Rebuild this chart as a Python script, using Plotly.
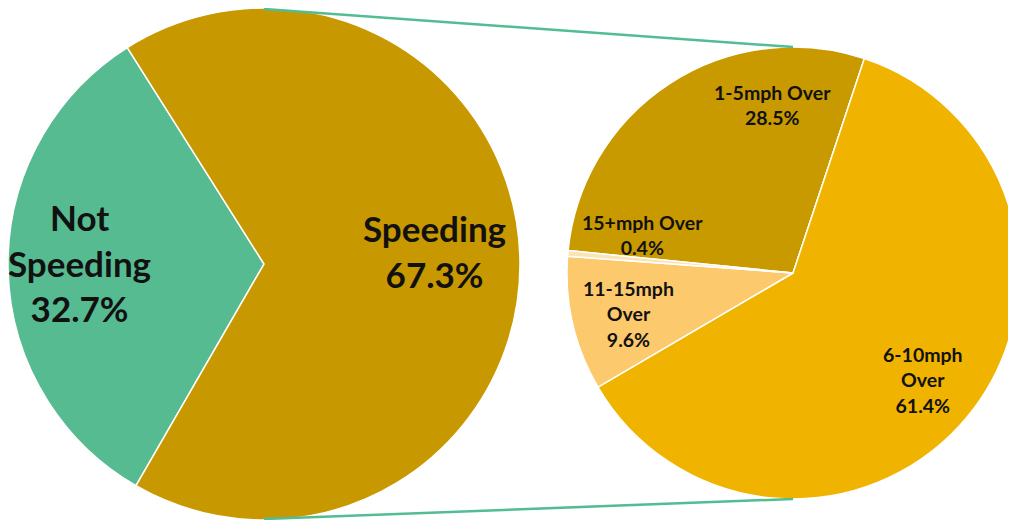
import plotly.graph_objects as go

# ---------------- data ----------------
main_labels = ["Not Speeding", "Speeding"]
main_values = [32.7, 67.3]

sub_labels = ["1-5mph Over", "6-10mph Over", "11-15mph Over", "15+mph Over"]
sub_values = [28.5, 61.4, 9.6, 0.4]

# ---------------- styles ----------------
main_colors = ["#57BB91", "#C89800"]
sub_colors = ["#C99900", "#F0B400", "#FCC96C", "#FBE3B5"]
line_green = "#52BC92"
W, H = 1016, 520
OFF = 8  # page body margin: figure pixel = screen pixel - OFF

# pie placement in figure pixels (x0, x1, y0 top, y1 bottom)
L_box = (0, 512, 0, 512)
R_box = (559, 1011, 39, 491)


def px(x):
    return x / W


def py(y):
    return 1 - y / H


def box_geom(b):
    x0, x1, y0, y1 = b
    return (x0 + x1) / 2, (y0 + y1) / 2, min(x1 - x0, y1 - y0) / 2


fig = go.Figure()

fig.add_trace(go.Pie(
    labels=main_labels, values=main_values, sort=False,
    direction="clockwise", rotation=210,
    marker=dict(colors=main_colors, line=dict(color="white", width=1.5)),
    textinfo="none", hoverinfo="label+percent", showlegend=False,
    domain=dict(x=[px(L_box[0]), px(L_box[1])], y=[py(L_box[3]), py(L_box[2])]),
))

fig.add_trace(go.Pie(
    labels=sub_labels, values=sub_values, sort=False,
    direction="clockwise", rotation=-84.3,
    marker=dict(colors=sub_colors, line=dict(color="white", width=1.5)),
    textinfo="none", hoverinfo="label+percent", showlegend=False,
    domain=dict(x=[px(R_box[0]), px(R_box[1])], y=[py(R_box[3]), py(R_box[2])]),
))

L_cx, L_cy, L_r = box_geom(L_box)
R_cx, R_cy, R_r = box_geom(R_box)

# connector lines: top-to-top, bottom-to-bottom
for (x0, y0, x1, y1) in [(L_cx, L_cy - L_r + 1, R_cx, R_cy - R_r),
                          (L_cx, L_cy + L_r - 1, R_cx, R_cy + R_r)]:
    fig.add_shape(type="line", xref="paper", yref="paper",
                  x0=px(x0), y0=py(y0), x1=px(x1), y1=py(y1),
                  line=dict(color=line_green, width=2.5), layer="above")

# ---------------- labels (screen pixel positions) ----------------
main_text = ["Not<br>Speeding", "Speeding"]
main_pos = [(79, 262), (434, 251)]
for name, val, (x, y) in zip(main_text, main_values, main_pos):
    fig.add_annotation(x=px(x - OFF), y=py(y - OFF), xref="paper", yref="paper",
                       text=f"<b>{name}<br>{val:.1f}%</b>", showarrow=False,
                       xanchor="center", yanchor="middle",
                       font=dict(family="Lato", size=35, color="#111111"))

sub_text = ["1-5mph Over", "6-10mph<br>Over", "11-15mph<br>Over", "15+mph Over"]
sub_pos = [(772, 105), (923, 380), (628, 314), (642, 235)]
for name, val, (x, y) in zip(sub_text, sub_values, sub_pos):
    fig.add_annotation(x=px(x - OFF), y=py(y - OFF), xref="paper", yref="paper",
                       text=f"<b>{name}<br>{val:.1f}%</b>", showarrow=False,
                       xanchor="center", yanchor="middle",
                       font=dict(family="Lato", size=19.5, color="#111111"))

fig.update_layout(
    width=W, height=H, margin=dict(l=0, r=0, t=0, b=0),
    paper_bgcolor="white", plot_bgcolor="white",
)

fig.write_html("out.html")
